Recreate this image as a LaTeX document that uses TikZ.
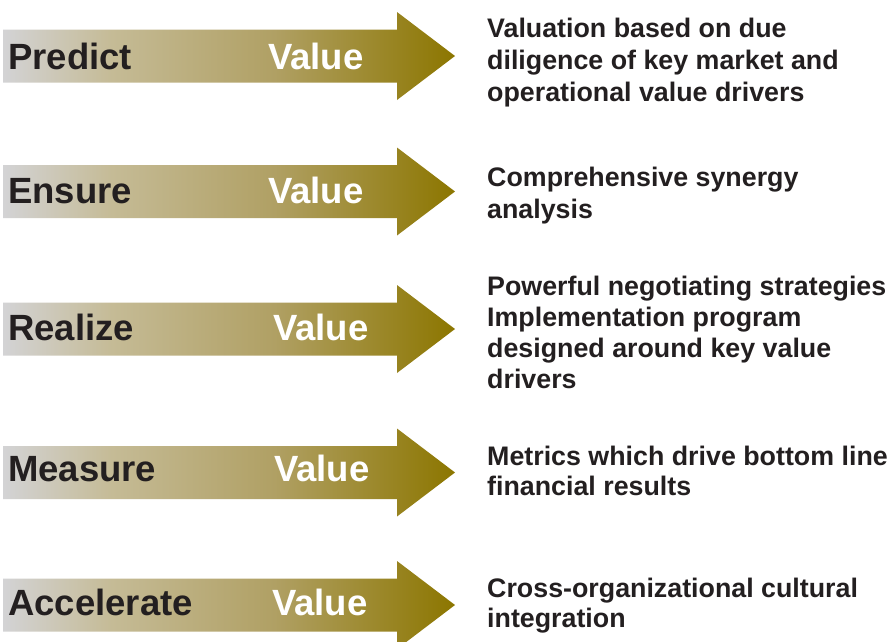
\documentclass[tikz,border=0pt]{standalone}
\usepackage{fontspec}
\setmainfont{Liberation Sans}
\usetikzlibrary{positioning}

\definecolor{vdark}{RGB}{35,31,32}
\definecolor{vgray}{RGB}{211,211,213}
\definecolor{vtan}{RGB}{197,187,150}
\definecolor{vmid}{RGB}{176,160,100}
\definecolor{volive}{RGB}{140,118,0}
\pgfdeclarehorizontalshading{valueshade}{100bp}{color(0bp)=(vgray); color(25bp)=(vgray); color(37bp)=(vtan); color(55bp)=(vmid); color(75bp)=(volive); color(100bp)=(volive)}

\begin{document}
\begin{tikzpicture}[x=1pt,y=-1pt]
	\tikzset{
		stage/.style={font=\fontsize{36.5}{40}\selectfont\bfseries, text=vdark, inner sep=0pt, anchor=base west},
		value/.style={stage, text=white},
		note/.style={font=\fontsize{26.8}{#1}\selectfont\bfseries, text=vdark, inner sep=0pt, anchor=base west, align=left},
		note/.default=32
	}
	\useasboundingbox (0,0) rectangle (894,641);

	\foreach \c in {56,191.5,329,472.5,605}
		\shade[shading=valueshade] (3,\c-26.5) -- (397,\c-26.5) -- (397,\c-44) -- (455,\c)
			-- (397,\c+44) -- (397,\c+26.5) -- (3,\c+26.5) -- cycle;

	\node[stage] (predict) at (8,69) {Predict};
	\node[stage] (ensure) at (8,203) {Ensure};
	\node[stage] (realize) at (8,340) {Realize};
	\node[stage] (measure) at (8,481) {Measure};
	\node[stage] (accelerate) at (8,615) {Accelerate};

	\node[value] (v1) at (268,69) {Value};
	\node[value] (v2) at (268,203) {Value};
	\node[value] (v3) at (273,340) {Value};
	\node[value] (v4) at (274,481) {Value};
	\node[value] (v5) at (272,615) {Value};

	% base of a multi-line node sits on its last line
	\node[note] (n1) at (487,101) {Valuation based on due\\diligence of key market and\\operational value drivers};
	\node[note] (n2) at (487,218) {Comprehensive synergy\\analysis};
	\node[note=31] (n3) at (487,388) {Powerful negotiating strategies\\Implementation program\\designed around key value\\drivers};
	\node[note=30] (n4) at (487,495) {Metrics which drive bottom line\\financial results};
	\node[note=30] (n5) at (487,627) {Cross-organizational cultural\\integration};
\end{tikzpicture}
\end{document}
